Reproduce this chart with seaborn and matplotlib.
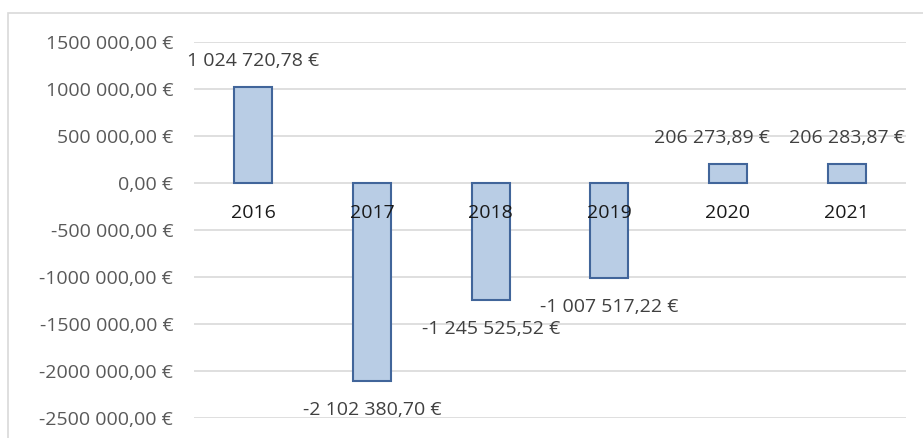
import pandas as pd
import matplotlib
matplotlib.use("Agg")
from matplotlib import pyplot as plt
from matplotlib.patches import Rectangle
import seaborn as sns

# data
years = ['2016', '2017', '2018', '2019', '2020', '2021']
values = [1024720.78, -2102380.70, -1245525.52, -1007517.22, 206273.89, 206283.87]
yticks = [1500000, 1000000, 500000, 0, -500000, -1000000, -1500000, -2000000, -2500000]


def eur(v):
    # French style: space thousands separator, comma decimal
    s = f'{abs(v):,.2f}'.replace(',', ' ').replace('.', ',')
    return ('-' if v < 0 else '') + s + ' €'


def eur_tick(v):
    # axis labels in the original skip the first separator: "1500 000,00 €"
    n = int(round(abs(v)))
    if n == 0:
        s = '0,00'
    else:
        s = f'{n // 1000} {n % 1000:03d},00'
    return ('-' if v < 0 else '') + s + ' €'


df = pd.DataFrame({'year': years, 'value': values})

sns.set_theme(style='white')
plt.rcParams['font.family'] = ['Open Sans', 'DejaVu Sans']
fs = 14

fig = plt.figure(figsize=(9.23, 4.38), dpi=100)
ax = fig.add_axes([194 / 923, 1 - 418 / 438, 712 / 923, 376 / 438])

sns.barplot(data=df, x='year', y='value', color='#B9CDE5', saturation=1,
            width=0.32, edgecolor='#41659A', linewidth=1.5, ax=ax, zorder=3)

ax.set_ylim(-2500000, 1500000)
ax.set_yticks(yticks)
ax.set_yticklabels([eur_tick(v) for v in yticks], color='#595959', fontsize=fs)
ax.tick_params(axis='y', length=0, pad=15)
ax.set_xticks([])
ax.set_xlabel('')
ax.set_ylabel('')
ax.grid(axis='y', color='#D9D9D9', linewidth=1.2, zorder=0)
for s in ax.spines.values():
    s.set_visible(False)

# category labels just under the zero line
for i, y in enumerate(years):
    ax.annotate(y, (i, 0), xytext=(0, -30), textcoords='offset pixels',
                ha='center', va='center', fontsize=fs, color='#1A1A1A', zorder=5)

# data labels outside the bar ends (2020 label nudged left like the original)
for i, v in enumerate(values):
    off = 26 if v > 0 else -29
    dx = -16 if i == 4 else 0
    ax.annotate(eur(v), (i, v), xytext=(dx, off), textcoords='offset pixels',
                ha='center', va='center', fontsize=fs, color='#404040', zorder=5)

# chart frame like excel
fig.patches.append(Rectangle((8 / 923, -0.1), 1.1, 1.1 - 13 / 438, transform=fig.transFigure,
                             fill=False, edgecolor='#D9D9D9', linewidth=1.2))

fig.savefig('out.png', dpi=100)
